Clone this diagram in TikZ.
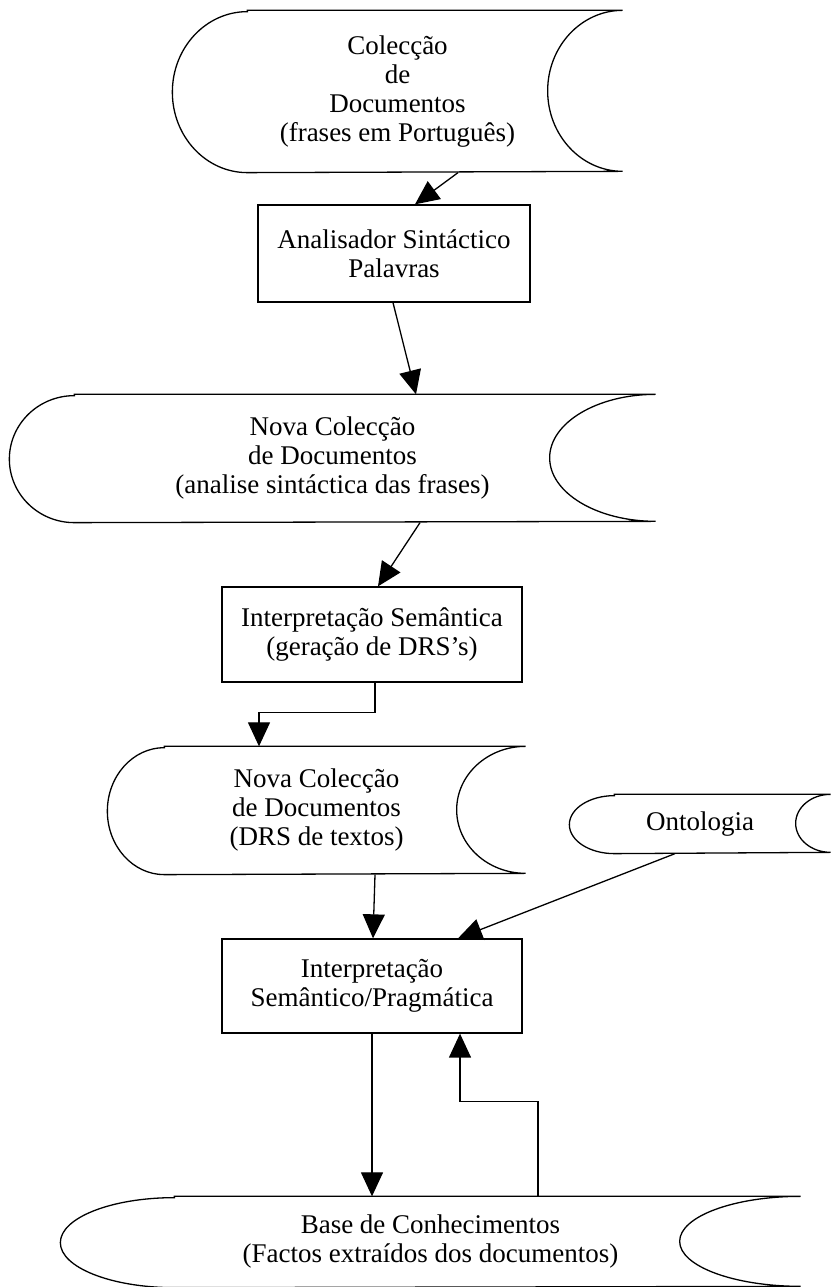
\documentclass[tikz,border=0pt]{standalone}
\usepackage{fontspec}
\setmainfont{Liberation Serif}
\usetikzlibrary{arrows.meta}

\begin{document}
\begin{tikzpicture}
        [x=1pt, y=1pt, line width=1.3pt,
        box/.style={rectangle, draw, line width=1.3pt, align=center, font=\fontsize{27}{29}\selectfont},
        doc/.style={rectangle, draw=none, align=center, font=\fontsize{27}{29}\selectfont},
        arr/.style={-{Triangle[length=24pt,width=22pt]}, line width=1.3pt}]

        \useasboundingbox (0,0) rectangle (831,1287);

        % stored documents (text + extent of the shape)
        \node[doc, minimum width=449pt, minimum height=161pt] (colA) at (397.5,1195.5)
            {Colecção\\de\\Documentos\\(frases em Português)};
        \node[doc, minimum width=645pt, minimum height=127pt] (colB) at (332.5,828.5)
            {Nova Colecção\\de Documentos\\(analise sintáctica das frases)};
        \node[doc, minimum width=417pt, minimum height=127pt] (colC) at (316.5,476.5)
            {Nova Colecção\\de Documentos\\(DRS de textos)};
        \node[doc, minimum width=260pt, minimum height=58pt] (onto) at (700,463) {Ontologia};
        \node[doc, minimum width=739pt, minimum height=90pt] (kb) at (430.5,45)
            {Base de Conhecimentos\\(Factos extraídos dos documentos)};

        % processes
        \node[box, minimum width=272pt, minimum height=97pt] (anal) at (394,1033.5)
            {Analisador Sintáctico\\Palavras};
        \node[box, minimum width=300pt, minimum height=95pt] (interp) at (372,652.5)
            {Interpretação Semântica\\(geração de DRS's)};
        \node[box, minimum width=300pt, minimum height=94pt] (prag) at (372,301)
            {Interpretação\\Semântico/Pragmática};

        % outlines of the stored documents
        \draw ([xshift=75pt]colA.north west) -- (colA.north east)
            arc[start angle=90, end angle=270, x radius=75, y radius=80.5]
            -- ([xshift=75pt]colA.south west)
            arc[start angle=270, end angle=90, x radius=75, y radius=80.5] -- cycle;
        \draw ([xshift=65pt]colB.north west) -- (colB.north east)
            arc[start angle=90, end angle=270, x radius=106, y radius=63.5]
            -- ([xshift=65pt]colB.south west)
            arc[start angle=270, end angle=90, x radius=65, y radius=63.5] -- cycle;
        \draw ([xshift=57pt]colC.north west) -- (colC.north east)
            arc[start angle=90, end angle=270, x radius=69, y radius=63.5]
            -- ([xshift=57pt]colC.south west)
            arc[start angle=270, end angle=90, x radius=57, y radius=63.5] -- cycle;
        \draw ([xshift=45pt]onto.north west) -- (onto.north east)
            arc[start angle=90, end angle=270, x radius=35, y radius=29]
            -- ([xshift=45pt]onto.south west)
            arc[start angle=270, end angle=90, x radius=45, y radius=29] -- cycle;
        \draw ([xshift=114pt]kb.north west) -- (kb.north east)
            arc[start angle=90, end angle=270, x radius=121, y radius=45]
            -- ([xshift=114pt]kb.south west)
            arc[start angle=270, end angle=90, x radius=114, y radius=45] -- cycle;

        % flow
        \draw[arr] ([xshift=60.5pt]colA.south) -- ([xshift=21pt]anal.north);
        \draw[arr] ([xshift=-1pt]anal.south) -- ([xshift=83.5pt]colB.north);
        \draw[arr] ([xshift=87.5pt]colB.south) -- ([xshift=6pt]interp.north);
        \draw[arr] ([xshift=3pt]interp.south) -- ++(0,-30) -| ([xshift=-57.5pt]colC.north);
        \draw[arr] ([xshift=58.5pt]colC.south) -- ([xshift=1pt]prag.north);
        \draw[arr] ([xshift=-25pt]onto.south) -- ([xshift=86pt]prag.north);
        \draw[arr] (prag.south) -- (prag.south |- kb.north);
        \draw[arr] ([xshift=107.5pt]kb.north) -- ++(0,95) -| ([xshift=88pt]prag.south);

\end{tikzpicture}
\end{document}
